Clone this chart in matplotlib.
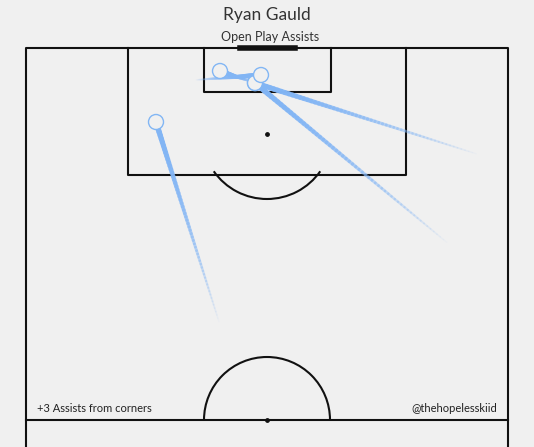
import numpy as np
import matplotlib.pyplot as plt
from matplotlib.collections import LineCollection
from matplotlib.patches import Arc, Circle

# assists: origin (faded end) -> destination (circle), in pitch pixel coords
start_x = [220, 480, 450, 195, 255]
start_y = [325, 155, 245, 80, 83]
end_x = [156, 255, 255, 261, 220]
end_y = [122, 83, 83, 75, 71]
corner_note = "+3 Assists from corners"
player = "Ryan Gauld"
subtitle = "Open Play Assists"
handle = "@thehopelesskiid"

bg = "#f0f0f0"
blue = "#82b6f4"
fig = plt.figure(figsize=(5.34, 4.47), dpi=100, facecolor=bg)
ax = fig.add_axes([0, 0, 1, 1])
ax.set_facecolor(bg)
ax.set_xlim(0, 534)
ax.set_ylim(447, 0)
ax.axis("off")

lc = dict(color="#111111", lw=1.5, zorder=2)
# outline + halfway line
ax.plot([26, 26, 508, 508], [447, 48, 48, 447], **lc)
ax.plot([26, 508], [420, 420], **lc)
# penalty box and six yard box
ax.plot([128, 128, 406, 406], [48, 175, 175, 48], **lc)
ax.plot([204, 204, 331, 331], [48, 92, 92, 48], **lc)
ax.plot([240, 295], [48, 48], color="#111111", lw=4, zorder=3)
ax.scatter([267, 267], [134, 420], s=6, color="#111111", zorder=3)
# D and centre circle
ax.add_patch(Arc((267, 134), 130, 130, theta1=35, theta2=145, **lc))
ax.add_patch(Arc((267, 420), 126, 126, theta1=180, theta2=360, **lc))

for sx, sy, ex, ey in zip(start_x, start_y, end_x, end_y):
    n = 60
    xs = np.linspace(sx, ex, n + 1)
    ys = np.linspace(sy, ey, n + 1)
    segs = [[(xs[i], ys[i]), (xs[i + 1], ys[i + 1])] for i in range(n)]
    t = np.linspace(0, 1, n)
    cols = [(0.51, 0.71, 0.96, a) for a in t ** 0.8]
    ax.add_collection(LineCollection(segs, colors=cols, linewidths=1 + 3 * t,
                                     capstyle="round", zorder=4))
    ax.add_patch(Circle((ex, ey), 7.5, facecolor=bg, edgecolor=blue, lw=1, zorder=5))

ax.text(267, 15, player, ha="center", va="center", fontsize=12.5,
        family="Lato", color="#333333")
ax.text(270, 37, subtitle, ha="center", va="center", fontsize=9,
        family="Lato", color="#333333")
ax.text(37, 408, corner_note, ha="left", va="center", fontsize=8,
        family="Lato", color="#222222")
ax.text(497, 408, handle, ha="right", va="center", fontsize=8,
        family="Lato", color="#222222")

fig.savefig("out.png", dpi=100, facecolor=bg)
